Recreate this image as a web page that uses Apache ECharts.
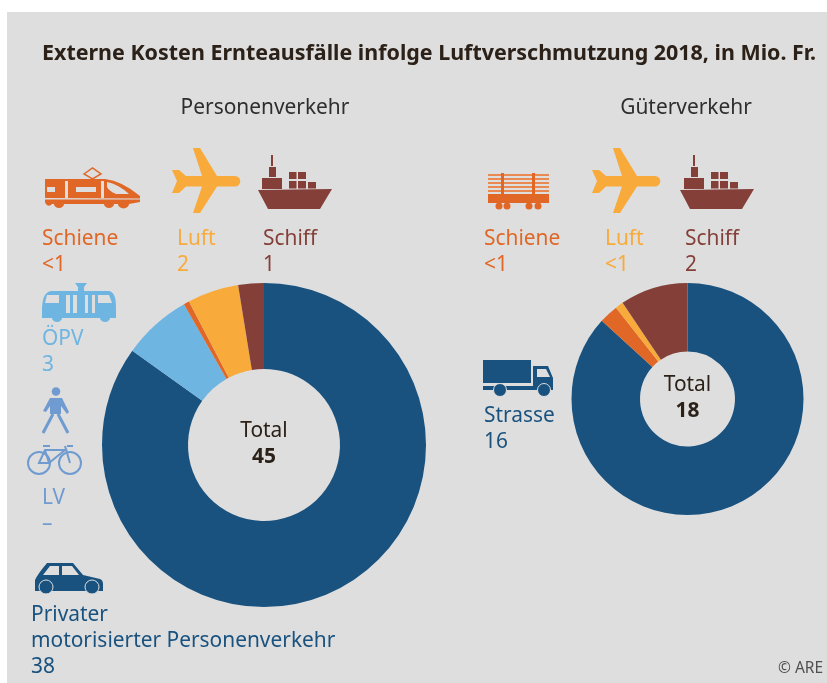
<!DOCTYPE html>
<html>
<head>
<meta charset="utf-8">
<title>Externe Kosten Ernteausfälle</title>
<script src="https://cdn.jsdelivr.net/npm/echarts@6/dist/echarts.min.js"></script>
<style>
  html, body { margin: 0; padding: 0; background: #fff; }
  #chart { width: 827px; height: 683px; }
</style>
</head>
<body>
<div id="chart"></div>
<script>
// Werte (Mio. Fr.), Reihenfolge im Uhrzeigersinn ab 12 Uhr
var personenNames = ['Privater motorisierter Personenverkehr', 'ÖPV', 'Schiene', 'Luft', 'Schiff'];
var personenValues = [38.2, 3.1, 0.25, 2.3, 1.15];
var personenLabels = ['38', '3', '<1', '2', '1'];
var gueterNames = ['Strasse', 'Schiene', 'Luft', 'Schiff'];
var gueterValues = [15.6, 0.48, 0.2, 1.7];
var gueterLabels = ['16', '<1', '<1', '2'];
var personenTotal = '45';
var gueterTotal = '18';
var lvName = 'LV';
var lvLabel = '–';

var BLUE = '#19527f', LIGHT = '#6fb5e2', ORANGE = '#e06726', YELLOW = '#f8aa3a', BROWN = '#843f38';
var LV_BLUE = '#6f9bd0';
var INK = '#2b2118';
var PANEL = '#dedede';
var FONT = '"Noto Sans", sans-serif';
var SIZE = 20.9;

// Piktogramme in lokalen Pixeln
var iconPaths = {
  plane: 'M21 0 L28 0 L45 28 L63 28 A5.3 5.3 0 0 1 63 38.6 L45 38.6 L28 65 L21 65 L30 38.6 L14 38.6 L7 45 L0 45 L5 33 L0 22 L7 22 L14 28 L30 28 Z',
  ship: 'M0 35 L74 34 L62 54 L10 54 Z M4 23 L24 23 L24 34 L4 34 Z M11 12 L18 12 L18 22 L11 22 Z M13 0 L15 0 L15 11 L13 11 Z ' +
    'M31 17 L38.5 17 L38.5 24 L31 24 Z M40 17 L48 17 L48 24 L40 24 Z M31 26 L38.5 26 L38.5 33.5 L31 33.5 Z M40 26 L48 26 L48 33.5 L40 33.5 Z M50 27 L58 27 L58 33.5 L50 33.5 Z',
  train: 'M1 12 L61 12 Q78 14 96 29 L96 35 L85 37 A5 4 0 0 1 74 37 L70 37 A5 4 0 0 1 60 37 L20 37 A5 4 0 0 1 10 37 L8 37 A4 4 0 0 1 1 35 Z',
  trainCut: 'M3 20 L11 20 L11 25 L3 25 Z M21 14 L24 14 L24 31 L21 31 Z M32 20 L52 20 L52 25 L32 25 Z M57 14 L60 14 L60 31 L57 31 Z M1 31 L96 31.4 L96 32.4 L1 32.4 Z M63 15 Q74 17 85 27 L72 27 Q65 24 63 20 Z',
  tram: 'M33 0 L45 0 L42 4 L42 8 L36 8 L36 4 Z M9 8 L67 8 Q74 9 74 24 L74 35 L68 35 A5 4 0 0 1 58 35 L20 35 A5 4 0 0 1 10 35 L0 35 L0 24 Q1 9 9 8 Z',
  tramCut: 'M5 12 L17 12 L17 20 L3 20 Z M24 12 L28 12 L28 30 L24 30 Z M31 12 L35 12 L35 30 L31 30 Z M43 12 L46 12 L46 30 L43 30 Z M50 12 L53 12 L53 30 L50 30 Z M56 12 L67 12 L70 20 L56 20 Z',
  truck: 'M0 0 L48 0 L48 23 L0 23 Z M0 26 L50 26 L50 6 L65 6 L70 18 L70 30 L0 30 Z',
  truckCut: 'M54 9 L63 9 L67 17 L54 17 Z',
  wagon: 'M0 21 L61 21 L61 30 L0 30 Z M13 0 L16 0 L16 21 L13 21 Z M44 0 L47 0 L47 21 L44 21 Z',
  logs: 'M0 1 L61 1 L61 3 L0 3 Z M0 5 L61 5 L61 7 L0 7 Z M0 9 L61 9 L61 11 L0 11 Z M0 13 L61 13 L61 15 L0 15 Z M0 17 L61 17 L61 19 L0 19 Z',
  walkerBody: 'M8 11 L20 11 L27 25 L25 27 L19 19 L19 27 L8 27 L8 19 L4 25 L1 24 Z',
  walkerLegs: 'M11 27 L1 46 M16 27 L26 46',
  bike: 'M12 18 L18 5 L38 5 L22 18 Z M16 1 L23 1 M18 5 L22 18 M40 1 L46 1 M38 1 L43 18',
  car: 'M12 1 L38 1 L48 13 L65 17 Q68 18 68 22 L68 29 L0 29 L0 18 Q2 13 12 1 Z',
  carCut: 'M15 4 L24 4 L24 13 L8 13 Z M27 4 L37 4 L44 13 L27 13 Z'
};
Object.keys(iconPaths).forEach(function (key) {
  echarts.graphic.registerShape('icon_' + key, echarts.graphic.extendPath(iconPaths[key], {}));
});

function text(str, x, y, color, size, weight, align) {
  return {
    type: 'text', x: x, y: y + 1, z: 10,
    style: {
      text: str, fill: color, font: (weight || 'normal') + ' ' + size + 'px ' + FONT,
      textAlign: align || 'left', textVerticalAlign: 'middle'
    }
  };
}

function label2(name, value, x, y, color) {
  return [text(name, x, y, color, SIZE), text(value, x, y + 26, color, SIZE)];
}

function icon(key, x, y, color, zz) {
  return { type: 'icon_' + key, x: x, y: y, z: zz || 10, shape: {}, style: { fill: color } };
}

function line(key, x, y, color, width) {
  return { type: 'icon_' + key, x: x, y: y, z: 10, shape: {}, style: { fill: 'none', stroke: color, lineWidth: width } };
}

function circle(x, y, r, style) {
  return { type: 'circle', z: 11, shape: { cx: x, cy: y, r: r }, style: style };
}

function planeIcon(x, y) { return icon('plane', x, y, YELLOW); }
function shipIcon(x, y) { return icon('ship', x, y, BROWN); }

var graphics = [
  { type: 'rect', z: -5, shape: { x: 7, y: 12, width: 820, height: 671 }, style: { fill: PANEL } },
  text('Externe Kosten Ernteausfälle infolge Luftverschmutzung 2018, in Mio. Fr.', 42, 53, INK, 21.45, 'bold'),
  text('Personenverkehr', 265, 107, '#2e2e2e', SIZE, 'normal', 'center'),
  text('Güterverkehr', 686, 107, '#2e2e2e', SIZE, 'normal', 'center'),

  // Personenverkehr
  icon('train', 44, 167, ORANGE),
  icon('trainCut', 44, 167, PANEL, 11),
  { type: 'polygon', z: 10, shape: { points: [[84, 174], [92.5, 168], [101, 174], [92.5, 179]] }, style: { fill: 'none', stroke: ORANGE, lineWidth: 1.5 } },
  planeIcon(172, 148),
  shipIcon(258, 155),
  icon('tram', 42, 283, LIGHT),
  icon('tramCut', 42, 283, PANEL, 11),
  icon('walkerBody', 42, 387, LV_BLUE),
  line('walkerLegs', 42, 387, LV_BLUE, 3),
  circle(56, 391.5, 4.3, { fill: LV_BLUE }),
  line('bike', 27, 445, LV_BLUE, 2),
  circle(39, 463, 11, { fill: 'none', stroke: LV_BLUE, lineWidth: 2 }),
  circle(70, 463, 11, { fill: 'none', stroke: LV_BLUE, lineWidth: 2 }),
  icon('car', 35, 562, BLUE),
  icon('carCut', 35, 562, PANEL, 11),
  circle(46, 587, 7, { fill: BLUE, stroke: PANEL, lineWidth: 1 }),
  circle(92, 587, 7, { fill: BLUE, stroke: PANEL, lineWidth: 1 }),

  // Gueterverkehr
  icon('logs', 488, 173, '#e98a52'),
  icon('wagon', 488, 173, ORANGE, 11),
  circle(499, 206, 3.5, { fill: ORANGE }),
  circle(507, 206, 3.5, { fill: ORANGE }),
  circle(529, 206, 3.5, { fill: ORANGE }),
  circle(538, 206, 3.5, { fill: ORANGE }),
  planeIcon(592, 148),
  shipIcon(680, 155),
  icon('truck', 483, 360, BLUE),
  icon('truckCut', 483, 360, PANEL, 11),
  circle(500, 390, 6.5, { fill: BLUE, stroke: PANEL, lineWidth: 1 }),
  circle(544, 390, 6.5, { fill: BLUE, stroke: PANEL, lineWidth: 1 }),

  // Mitte der Ringe
  text('Total', 264, 430, INK, SIZE, 'normal', 'center'),
  text(personenTotal, 264, 456, INK, SIZE, 'bold', 'center'),
  text('Total', 687.5, 384, INK, SIZE, 'normal', 'center'),
  text(gueterTotal, 687.5, 410, INK, SIZE, 'bold', 'center'),

  text('Privater', 31, 614, BLUE, SIZE),
  text('motorisierter Personenverkehr', 31, 640, BLUE, SIZE),
  text(personenLabels[0], 31, 666, BLUE, SIZE),
  text('© ARE', 778, 668, '#505050', 15.5)
].concat(
  label2(personenNames[2], personenLabels[2], 42, 238, ORANGE),
  label2(personenNames[3], personenLabels[3], 177, 238, YELLOW),
  label2(personenNames[4], personenLabels[4], 263, 238, BROWN),
  label2(personenNames[1], personenLabels[1], 42, 338, LIGHT),
  label2(lvName, lvLabel, 42, 497, LV_BLUE),
  label2(gueterNames[1], gueterLabels[1], 484, 238, ORANGE),
  label2(gueterNames[2], gueterLabels[2], 605, 238, YELLOW),
  label2(gueterNames[3], gueterLabels[3], 685, 238, BROWN),
  label2(gueterNames[0], gueterLabels[0], 484, 415, BLUE)
);

function pieData(names, values, colors) {
  var out = [];
  for (var i = 0; i < names.length; i++) {
    out.push({ name: names[i], value: values[i], itemStyle: { color: colors[i] } });
  }
  return out;
}

var myChart = echarts.init(document.getElementById('chart'));
myChart.setOption({
  backgroundColor: '#ffffff',
  animation: false,
  graphic: { elements: graphics },
  series: [
    {
      type: 'pie', silent: true, startAngle: 90, clockwise: true, z: 2,
      center: [264, 445], radius: [76, 162],
      label: { show: false }, labelLine: { show: false },
      data: pieData(personenNames, personenValues, [BLUE, LIGHT, ORANGE, YELLOW, BROWN])
    },
    {
      type: 'pie', silent: true, startAngle: 90, clockwise: true, z: 2,
      center: [687.5, 399], radius: [47.5, 116],
      label: { show: false }, labelLine: { show: false },
      data: pieData(gueterNames, gueterValues, [BLUE, ORANGE, YELLOW, BROWN])
    }
  ]
});
</script>
</body>
</html>
